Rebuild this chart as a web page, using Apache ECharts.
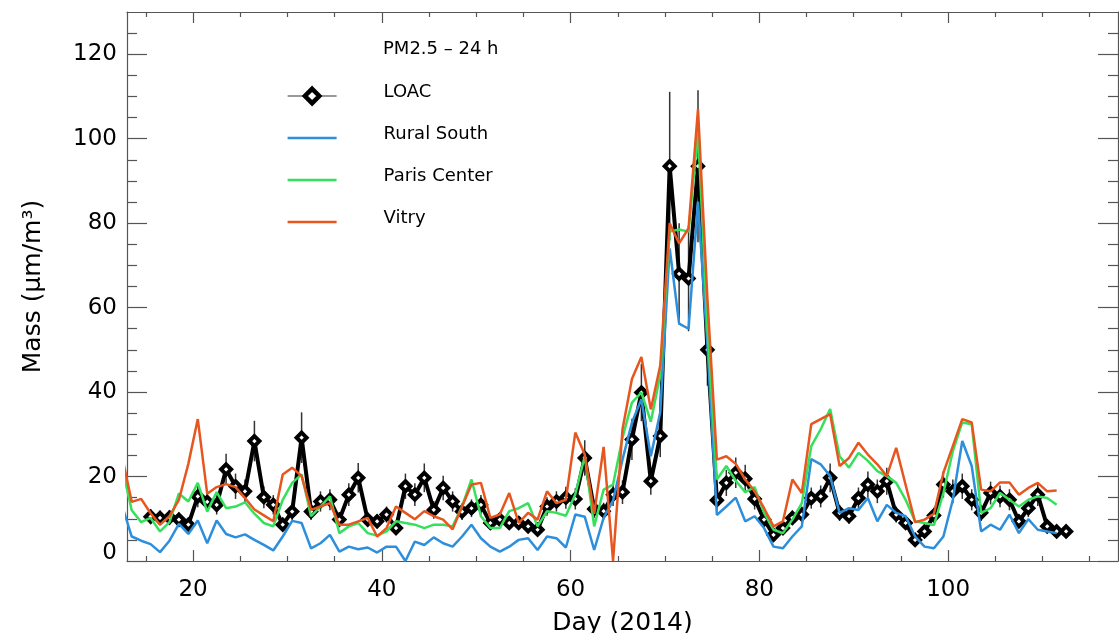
<!DOCTYPE html>
<html>
<head>
<meta charset="utf-8">
<script src="https://cdn.jsdelivr.net/npm/echarts@6/dist/echarts.min.js"></script>
<style>
html,body{margin:0;padding:0;background:#fff;}
#c{width:1119px;height:633px;}
</style>
</head>
<body>
<div id="c"></div>
<script>
// ---- data (daily means, plotted at mid-day) ----
const stationStartDay = 12.5;   // first day of the station series
const loacStartDay = 15.5;      // first day of the LOAC series

const vitry = [
  24.5,14,14.7,11.3,8.6,10.6,14.5,23,33.6,15.9,
  17.5,18.2,17.5,14.9,12.2,10.8,9.4,20.5,22.1,20.1,
  12.1,12.9,13.7,8.6,8.6,9.4,10.2,5.8,7.8,12.9,
  11.4,9.9,11.8,10.6,9.8,7.5,12.9,18.1,18.5,10.2,
  11,16.1,9,11.4,9.8,16.5,13.7,14.5,30.4,25.2,
  11.2,27,0,31.2,43.1,48.3,35.9,46.3,80,75.2,
  78.8,107,62,24,24.8,23,19.3,16.5,12.5,8.2,
  9.4,19.3,16.1,32.4,33.6,34.8,22.5,24.4,28,25.2,
  22.9,20.1,26.8,18,9.2,9.8,11.2,20.9,27.2,33.6,
  32.8,16.9,16.5,18.6,18.6,15.7,17.3,18.5,16.5,16.7
];
const parisCenter = [
  22,12,9.2,10.2,7,9.2,16,14.1,18.5,11.7,
  16.3,12.5,12.9,13.9,11.2,9,8.2,14.5,18.5,20.5,
  10.6,12.9,15.3,6.6,8.2,9,6.6,6,7,9.4,
  9,8.6,7.8,8.6,8.6,8.2,12.9,19.3,10.6,7.8,
  7.8,11.8,12.5,13.7,8.2,11.8,11.4,10.7,15.8,24.8,
  8.2,16.9,18.1,29.2,37.5,39.9,33,44,78,78.5,
  78,101.8,55,19.3,22.5,19,16.3,17.5,11.4,7.4,
  6.6,9.8,13.7,27.2,31.2,36,24.8,22.1,25.6,23.7,
  21.3,20.1,18.5,14.5,9.4,9,8.5,16.1,26,32.8,
  32.4,11.4,12.5,16.1,14.5,12.9,14.5,15.3,14.9,13.3
];
const ruralSouth = [
  13,5.8,4.8,4,2.1,4.8,8.8,6.4,9.6,4.2,
  9.6,6.4,5.6,6.3,5,3.8,2.5,5.8,9.5,9,
  3,4.2,6.2,2.2,3.4,2.8,3.2,2,3.4,3.4,
  0,4.6,3.8,5.6,4.2,3.4,5.8,8.6,5.4,3.4,
  2.2,3.4,5,5.4,2.6,5.8,5.4,3.2,11,10.5,
  2.6,10.2,14.3,24,32.8,38.3,24.8,35.2,74,56.2,
  55,85.1,51,10.9,12.9,15,9.4,10.6,7.8,3.4,
  3,5.8,8.2,24.1,22.9,20.1,11.4,12.5,12.1,14.9,
  9.4,13.3,11.4,10.6,5.8,3.4,3,5.8,14.5,28.4,
  22.5,7,8.6,7.4,11,6.6,9.9,7.4,7,6.6
];
const loac = [
  10.5,10.2,10.3,9.8,8.6,15.3,14,13.3,21.7,17.7,
  16.5,28.4,15.1,13.3,8.6,11.7,29.2,11.7,14.1,14.5,
  9.8,15.7,19.7,9.8,9.4,11,7.8,17.7,15.7,19.7,
  12.1,17.3,14.1,11.7,12.5,13.3,9,9.8,9,9,
  8.2,7.4,12.9,14.1,15,14.7,24.4,12.3,11.8,15.7,
  16.3,28.8,39.9,18.9,29.6,93.5,68,66.9,93.5,50,
  14.4,18.5,20.9,19.5,14.7,9.8,6.2,7.8,10.2,11,
  14.9,15.3,19.7,11.4,10.6,14.9,18.1,16.5,18.9,11,
  9,5,7,10.8,18.1,16.5,17.7,14.5,11.4,16.1,
  15.3,14.5,9.4,12.5,15.7,8.2,7,7
];
const loacErr = [
  1.8,1.7,1.8,1.7,1.5,2.6,2.4,2.3,3.7,3,
  2.8,4.8,2.6,2.3,1.5,2,6,2,2.4,2.5,
  1.7,2.7,3.5,1.7,1.6,1.9,1.3,3,2.7,3.4,
  2.1,2.9,2.4,2,2.1,2.3,1.5,1.7,1.5,1.5,
  1.4,1.3,2.2,2.4,2.6,2.5,4.2,2.1,2,2.7,
  2.8,4.9,6.8,3.2,5,17.6,12,12.5,18,8.5,
  2.4,3.1,3.6,3.3,2.5,1.7,1.1,1.3,1.7,1.9,
  2.5,2.6,3.4,1.9,1.8,2.5,3.1,2.8,3.2,1.9,
  1.5,0.9,1.2,1.8,3.1,2.8,3,2.5,1.9,2.7,
  2.6,2.5,1.6,2.1,2.7,1.4,1.2,1.2
];
const xTickValues = [20, 40, 60, 80, 100];
const yTickValues = [0, 20, 40, 60, 80, 100, 120];
const legendTitle = 'PM2.5 – 24 h';

// ---- build (x, y) pairs ----
function daysFrom(start, n) { const a = []; for (let i = 0; i < n; i++) a.push(start + i); return a; }
const stationDays = daysFrom(stationStartDay, vitry.length);
const loacDays = daysFrom(loacStartDay, loac.length);
const pairs = (days, vals) => days.map((d, i) => [d, vals[i]]);

const FONT = 'DejaVu Sans';
const AX = '#555';
const blue = '#2d8edb', green = '#36e05c', orange = '#e8561f';

const chart = echarts.init(document.getElementById('c'), null, {renderer: 'canvas'});

function xAxisCfg(pos, showLabel) {
  return {
    type: 'value', min: 13, max: 118, position: pos,
    axisLine: {show: true, onZero: false, lineStyle: {color: AX, width: 1.2}},
    axisTick: {show: true, inside: true, length: 11, customValues: xTickValues, lineStyle: {color: AX, width: 1.2}},
    minorTick: {show: true, splitNumber: 4, length: 5, lineStyle: {color: AX, width: 1.2}},
    axisLabel: {show: showLabel, customValues: xTickValues, fontFamily: FONT, fontSize: 23, color: '#000', margin: 18},
    splitLine: {show: false}, minorSplitLine: {show: false}
  };
}
function yAxisCfg(pos, showLabel) {
  return {
    type: 'value', min: 0, max: 130, interval: 20, position: pos,
    axisLine: {show: true, onZero: false, lineStyle: {color: AX, width: 1.2}},
    axisTick: {show: true, inside: true, length: 20, customValues: yTickValues, lineStyle: {color: AX, width: 1.2}},
    minorTick: {show: true, splitNumber: 4, length: 10, lineStyle: {color: AX, width: 1.2}},
    axisLabel: {
      show: showLabel, customValues: yTickValues, fontFamily: FONT, fontSize: 23, color: '#000', margin: 10,
      formatter: v => (v === 0 ? '{z|0}' : String(v)),
      rich: {z: {fontFamily: FONT, fontSize: 23, color: '#000', padding: [0, 0, 16, 0]}}
    },
    splitLine: {show: false}, minorSplitLine: {show: false}
  };
}

const xMain = Object.assign(xAxisCfg('bottom', true), {
  name: 'Day (2014)', nameLocation: 'middle', nameGap: 50,
  nameTextStyle: {fontFamily: FONT, fontSize: 25, color: '#000'}
});
const yMain = Object.assign(yAxisCfg('left', true), {
  name: 'Mass (μm/m³)', nameLocation: 'middle', nameGap: 81, nameRotate: 90,
  nameTextStyle: {fontFamily: FONT, fontSize: 25, color: '#000'}
});

const linePath = 'path://M0,0H60V3H0Z';

chart.setOption({
  animation: false,
  backgroundColor: '#fff',
  grid: {left: 127, right: 1, top: 12, bottom: 72, containLabel: false, outerBoundsMode: 'none'},
  title: {
    text: legendTitle, left: 378, top: 34,
    textStyle: {fontFamily: FONT, fontSize: 18, fontWeight: 'normal', color: '#000', lineHeight: 20}
  },
  legend: {
    orient: 'vertical', left: 282, top: 78, itemWidth: 49, itemHeight: 18, itemGap: 16,
    selectedMode: false,
    formatter: '{t|{name}}',
    textStyle: {
      fontFamily: FONT, fontSize: 18, color: '#000',
      rich: {t: {fontFamily: FONT, fontSize: 18, color: '#000', lineHeight: 20, padding: [0, 0, 8, 42]}}
    },
    data: [
      {name: 'LOAC', lineStyle: {width: 1.2, color: '#333'}, itemStyle: {color: '#fff', borderColor: '#000', borderWidth: 4.5}},
      {name: 'Rural South', icon: linePath},
      {name: 'Paris Center', icon: linePath},
      {name: 'Vitry', icon: linePath}
    ]
  },
  xAxis: [xMain, xAxisCfg('top', false)],
  yAxis: [yMain, yAxisCfg('right', false)],
  series: [
    {
      name: 'LOAC error', type: 'custom', xAxisIndex: 0, yAxisIndex: 0, z: 1, silent: true, clip: true,
      data: loacDays.map((d, i) => [d, loac[i] - loacErr[i], loac[i] + loacErr[i]]),
      renderItem: function (params, api) {
        const p1 = api.coord([api.value(0), api.value(1)]);
        const p2 = api.coord([api.value(0), api.value(2)]);
        return {type: 'line', shape: {x1: p1[0], y1: p1[1], x2: p2[0], y2: p2[1]},
                style: {stroke: '#333', lineWidth: 1.5}};
      }
    },
    {
      name: 'LOAC', type: 'line', z: 2, data: pairs(loacDays, loac),
      symbol: 'diamond', symbolSize: 10, showSymbol: true,
      lineStyle: {color: '#000', width: 4},
      itemStyle: {color: '#fff', borderColor: '#000', borderWidth: 4}
    },
    {
      name: 'Rural South', type: 'line', z: 3, data: pairs(stationDays, ruralSouth),
      showSymbol: false, symbol: 'circle', clip: true,
      lineStyle: {color: blue, width: 2.5}, itemStyle: {color: blue}
    },
    {
      name: 'Paris Center', type: 'line', z: 3, data: pairs(stationDays, parisCenter),
      showSymbol: false, symbol: 'circle', clip: true,
      lineStyle: {color: green, width: 2.5}, itemStyle: {color: green}
    },
    {
      name: 'Vitry', type: 'line', z: 3, data: pairs(stationDays, vitry),
      showSymbol: false, symbol: 'circle', clip: true,
      lineStyle: {color: orange, width: 2.5}, itemStyle: {color: orange}
    }
  ]
});
</script>
</body>
</html>
